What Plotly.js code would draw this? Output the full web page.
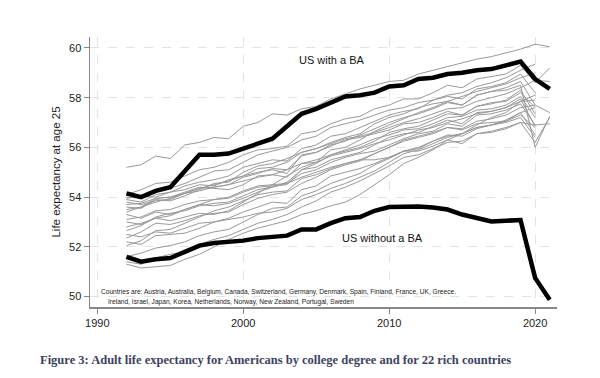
<!DOCTYPE html>
<html>
<head>
<meta charset="utf-8">
<script src="https://cdn.plot.ly/plotly-3.0.1.min.js"></script>
<style>html,body{margin:0;padding:0;background:#fff;}#chart{width:600px;height:378px;}</style>
</head>
<body>
<div id="chart"></div>
<script>
const years = [1992,1993,1994,1995,1996,1997,1998,1999,2000,2001,2002,2003,2004,2005,2006,2007,2008,2009,2010,2011,2012,2013,2014,2015,2016,2017,2018,2019,2020,2021];

const usWithBA = [54.15,54.0,54.25,54.4,55.05,55.7,55.7,55.75,55.95,56.15,56.35,56.85,57.35,57.55,57.8,58.05,58.1,58.2,58.45,58.5,58.75,58.8,58.95,59.0,59.1,59.15,59.3,59.45,58.75,58.35];
const usWithoutBA = [51.6,51.4,51.5,51.55,51.8,52.05,52.15,52.2,52.25,52.35,52.4,52.45,52.7,52.7,52.95,53.15,53.2,53.45,53.6,53.62,53.62,53.58,53.5,53.3,53.15,53.02,53.05,53.08,50.75,49.87];

const japan = [55.2,55.3,55.65,55.55,56.1,56.2,56.4,56.35,56.85,57.0,57.35,57.3,57.55,57.65,57.95,58.15,58.35,58.5,58.65,58.7,58.95,59.1,59.25,59.4,59.55,59.65,59.8,59.95,60.15,60.05];
const c1 = [54.1,54.3,54.55,54.6,54.85,55.1,55.2,55.4,55.7,55.9,55.95,56.05,56.55,56.65,56.95,57.15,57.25,57.55,57.7,57.95,57.95,58.2,58.5,58.4,58.75,58.85,58.95,59.3,58.6,59.2];
const c2 = [54.0,53.95,54.2,54.35,54.55,54.8,55.05,55.1,55.4,55.7,55.85,56.0,56.3,56.45,56.8,56.95,57.1,57.3,57.5,57.6,57.8,57.9,58.1,58.2,58.45,58.6,58.8,59.1,59.35,null];
const c3 = [53.95,54.05,54.0,54.2,54.45,54.6,54.7,54.85,55.2,55.35,55.5,55.45,55.95,56.1,56.45,56.55,56.8,57.05,57.3,57.45,57.55,57.9,58.05,57.95,58.35,58.45,58.6,58.95,58.2,null];
const c4 = [53.9,53.8,54.1,54.2,54.3,54.5,54.45,54.7,54.85,55.15,55.2,55.4,55.8,55.95,56.2,56.4,56.55,56.95,57.2,57.35,57.6,57.75,57.85,58.05,58.25,58.4,58.55,58.8,59.0,null];
const c5 = [53.8,53.7,53.85,53.9,54.15,54.35,54.4,54.5,54.8,54.95,55.15,55.1,55.65,55.8,56.1,56.25,56.5,56.75,57.0,57.2,57.35,57.55,57.8,57.7,58.1,58.25,58.4,58.65,57.7,null];
const c6 = [53.7,53.75,53.95,54.0,54.2,54.4,54.35,54.3,54.5,54.85,54.9,54.8,55.35,55.4,55.9,56.0,56.3,56.65,56.9,57.15,57.4,57.6,57.85,57.7,58.1,58.25,58.3,58.5,56.0,57.25];
const c7 = [53.6,53.55,53.9,53.85,54.05,54.3,54.55,54.6,55.0,55.25,55.35,55.55,55.8,55.95,56.15,56.35,56.45,56.6,56.8,57.0,57.15,57.35,57.55,57.6,57.85,58.0,58.15,58.4,58.7,58.65];
const c8 = [53.5,53.6,53.8,53.95,54.15,54.35,54.5,54.65,54.85,55.0,55.1,54.95,55.7,55.8,56.05,56.3,56.4,56.55,56.7,56.95,57.0,57.2,57.45,57.3,57.65,57.75,57.9,58.3,57.35,null];
const c9 = [53.4,53.6,53.95,54.0,54.15,54.25,54.4,54.5,54.65,54.8,54.9,55.1,55.35,55.5,55.7,55.85,56.0,56.25,56.6,56.75,56.85,57.1,57.35,57.3,57.65,57.8,57.85,58.2,57.6,null];
const c10 = [53.3,53.15,53.4,53.3,53.5,53.7,53.65,53.75,53.95,54.2,54.4,54.6,55.1,55.35,55.7,55.9,56.1,56.35,56.5,56.7,56.75,56.95,57.2,57.25,57.5,57.55,57.7,58.05,57.2,null];
const c11 = [53.1,53.2,53.45,53.5,53.7,53.85,53.9,53.95,54.2,54.4,54.45,54.5,55.1,55.2,55.5,55.65,55.8,56.1,56.4,56.55,56.6,56.85,57.1,56.95,57.4,57.45,57.6,57.95,56.85,null];
const c12 = [53.0,52.9,53.15,53.05,53.2,53.35,53.3,53.45,53.8,54.15,54.5,54.85,55.2,55.4,55.65,55.8,55.95,56.15,56.3,56.5,56.7,56.8,57.0,57.15,57.35,57.45,57.6,57.85,57.9,null];
const c13 = [52.8,52.95,53.15,53.25,53.5,53.7,53.9,54.0,54.25,54.45,54.5,54.55,54.95,55.1,55.4,55.6,55.75,55.85,56.1,56.35,56.55,56.65,56.95,56.85,57.3,57.35,57.5,57.75,56.9,null];
const c14 = [52.65,52.85,53.2,53.35,53.45,53.65,53.75,53.8,54.05,54.3,54.4,54.55,54.8,55.0,55.2,55.35,55.5,55.75,56.0,56.25,56.4,56.55,56.8,56.75,57.05,57.15,57.3,57.6,57.7,57.4];
const c15 = [52.5,52.4,52.6,52.55,52.75,52.95,53.0,53.1,53.2,53.35,53.4,53.55,53.9,54.1,54.35,54.55,54.8,55.05,55.4,55.75,55.9,56.15,56.4,56.55,56.8,56.9,57.1,57.4,57.6,null];
const c16 = [52.35,52.6,52.95,52.9,53.05,53.25,53.35,53.4,53.7,53.95,54.1,54.2,54.55,54.8,55.1,55.3,55.45,55.75,56.0,56.3,56.45,56.6,56.8,56.7,56.95,57.0,57.05,57.4,56.5,null];
const c17 = [52.2,52.1,52.45,52.5,52.55,52.75,53.0,53.15,53.4,53.6,53.8,53.75,54.3,54.45,54.85,55.0,55.15,55.35,55.6,55.85,55.95,56.25,56.5,56.45,56.75,56.9,57.0,57.2,56.4,null];
const c18 = [52.05,52.25,52.65,52.7,52.95,53.2,53.45,53.6,53.85,54.1,54.2,54.25,54.75,54.9,55.15,55.35,55.5,55.5,55.6,55.85,55.85,56.05,56.3,56.15,56.55,56.6,56.75,57.0,56.9,56.95];
const c19 = [51.6,51.75,51.95,52.05,52.2,52.45,52.6,52.7,53.0,53.3,53.55,53.6,54.05,54.25,54.55,54.75,54.95,55.3,55.55,55.85,56.0,56.25,56.45,56.55,56.8,56.9,57.05,57.3,56.8,null];
const c20 = [51.4,51.3,51.55,51.7,51.8,52.1,52.3,52.45,52.7,52.95,53.1,53.3,53.6,53.85,54.2,54.4,54.65,54.95,55.25,55.6,55.7,55.95,56.2,56.25,56.55,56.65,56.8,57.0,56.2,57.2];
const c21 = [51.3,51.15,51.2,51.25,51.5,51.7,52.0,52.3,52.55,52.75,52.9,53.05,53.3,53.45,53.65,53.8,54.1,54.5,54.9,55.35,55.6,55.9,56.3,56.55,56.9,57.2,57.4,57.85,58.1,null];

const countrySeries = [japan,c1,c2,c3,c4,c5,c6,c7,c8,c9,c10,c11,c12,c13,c14,c15,c16,c17,c18,c19,c20,c21];

const xTicks = [1990,2000,2010,2020];
const yTicks = [50,52,54,56,58,60];

const labelBA = "US with a BA";
const labelNoBA = "US without a BA";
const noteLine1 = "Countries are: Austria, Australia, Belgium, Canada, Switzerland, Germany, Denmark, Spain, Finland, France, UK, Greece.";
const noteLine2 = "Ireland, Israel, Japan, Korea, Netherlands, Norway, New Zealand, Portugal, Sweden";
const caption = "Figure 3: Adult life expectancy for Americans by college degree and for 22 rich countries";

const traces = countrySeries.map(v => ({
  x: years, y: v, type: 'scatter', mode: 'lines',
  line: {color: '#999999', width: 1}, hoverinfo: 'skip', showlegend: false
}));
traces.push({x: years, y: usWithBA, type: 'scatter', mode: 'lines', line: {color: '#000', width: 4.5}, showlegend: false});
traces.push({x: years, y: usWithoutBA, type: 'scatter', mode: 'lines', line: {color: '#000', width: 4.5}, showlegend: false});

const layout = {
  width: 600, height: 378,
  margin: {l: 90, r: 43, t: 37, b: 71},
  paper_bgcolor: '#fff', plot_bgcolor: '#fff',
  font: {family: 'Liberation Sans, Arial, sans-serif', color: '#222', size: 11},
  showlegend: false,
  xaxis: {
    range: [1989.5, 2021.5], tickvals: xTicks, ticktext: xTicks.map(String),
    showline: true, linecolor: '#888', linewidth: 1.5, mirror: false,
    ticks: 'outside', ticklen: 5, tickcolor: '#888', tickwidth: 1,
    showgrid: true, gridcolor: '#e3e3e3', griddash: 'dash', gridwidth: 1,
    zeroline: false, tickfont: {size: 11, color: '#222'}
  },
  yaxis: {
    range: [49.58, 60.44], tickvals: yTicks, ticktext: yTicks.map(String),
    showline: true, linecolor: '#888', linewidth: 1.5,
    ticks: 'outside', ticklen: 5, tickcolor: '#888', tickwidth: 1,
    showgrid: true, gridcolor: '#e3e3e3', griddash: 'dash', gridwidth: 1,
    zeroline: false, tickfont: {size: 11, color: '#222'},
    title: {text: 'Life expectancy at age 25', font: {size: 11.5, color: '#222'}, standoff: 6}
  },
  annotations: [
    {x: 2006.07, y: 59.52, xref: 'x', yref: 'y', text: labelBA, showarrow: false, font: {size: 11, color: '#111'}, xanchor: 'center', yanchor: 'middle'},
    {x: 2009.53, y: 52.37, xref: 'x', yref: 'y', text: labelNoBA, showarrow: false, font: {size: 11, color: '#111'}, xanchor: 'center', yanchor: 'middle'},
    {x: (99-90)/467, y: (307-291.7)/270, xref: 'paper', yref: 'paper', text: noteLine1, showarrow: false, font: {size: 6.6, color: '#222'}, xanchor: 'left', yanchor: 'middle'},
    {x: (106-90)/467, y: (307-301.7)/270, xref: 'paper', yref: 'paper', text: noteLine2, showarrow: false, font: {size: 6.6, color: '#222'}, xanchor: 'left', yanchor: 'middle'},
    {x: (38-90)/467, y: (307-360)/270, xref: 'paper', yref: 'paper', text: '<b>' + caption + '</b>', showarrow: false, font: {family: 'Liberation Serif, Times New Roman, serif', size: 12.5, color: '#3d4262'}, xanchor: 'left', yanchor: 'middle'}
  ]
};

Plotly.newPlot('chart', traces, layout, {displayModeBar: false, staticPlot: true});
</script>
</body>
</html>
